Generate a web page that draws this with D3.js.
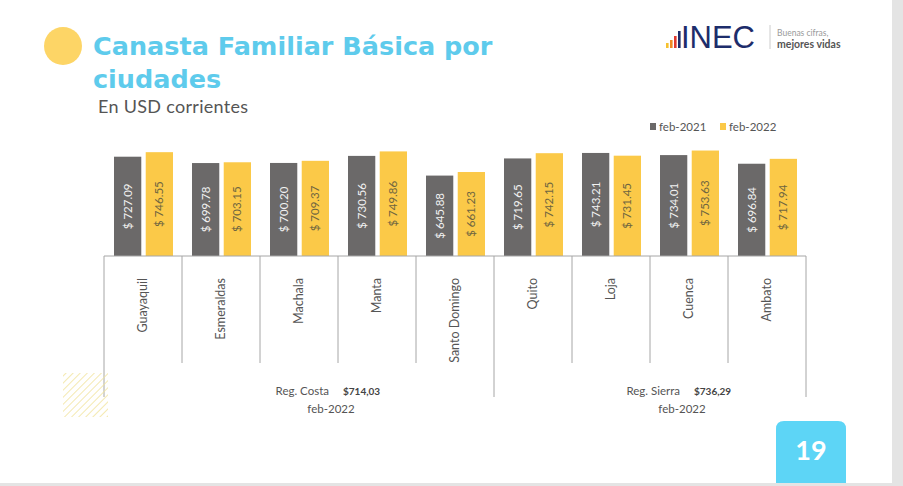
<!DOCTYPE html>
<html>
<head>
<meta charset="utf-8">
<script src="https://cdn.jsdelivr.net/npm/d3@7/dist/d3.min.js"></script>
<style>
  body { margin: 0; background: #fff; }
  svg { display: block; }
</style>
</head>
<body>
<div id="chart"></div>
<script>
// data
const cities = ["Guayaquil", "Esmeraldas", "Machala", "Manta", "Santo Domingo", "Quito", "Loja", "Cuenca", "Ambato"]
const series = ["feb-2021", "feb-2022"]
const feb2021 = [727.09, 699.78, 700.20, 730.56, 645.88, 719.65, 743.21, 734.01, 696.84]
const feb2022 = [746.55, 703.15, 709.37, 749.86, 661.23, 742.15, 731.45, 753.63, 717.94]
const regionNames = ["Reg. Costa", "Reg. Sierra"]
const regionValues = ["$714,03", "$736,29"]
const regionFirst = [0, 5]
const regionLast = [4, 8]
const regionPeriod = ["feb-2022", "feb-2022"]
const titleLines = ["Canasta Familiar Básica por", "ciudades"]

const width = 903
const height = 486
const font = "Lato, 'Open Sans', sans-serif"
const colors = { "feb-2021": "#6b6969", "feb-2022": "#fbc948" }
const labelColors = { "feb-2021": "#f2f2f2", "feb-2022": "#6e6540" }

const svg = d3.select('#chart')
  .append('svg')
  .attr('width', width)
  .attr('height', height)
  .style('font-family', font)

// slide frame
svg.append('rect').attr('x', 892).attr('y', 0).attr('width', 11).attr('height', height).attr('fill', '#e4e4e4')
svg.append('rect').attr('x', 0).attr('y', 483).attr('width', width).attr('height', 3).attr('fill', '#e4e4e4')

// title block
svg.append('circle').attr('cx', 63).attr('cy', 46).attr('r', 19).attr('fill', '#fdd566')

svg.selectAll('.title')
  .data(titleLines)
  .enter()
  .append('text')
  .attr('x', 93)
  .attr('y', (d, i) => 55 + i * 33)
  .attr('fill', '#5ecbec')
  .attr('font-family', "'DejaVu Sans', sans-serif")
  .attr('font-size', 25.5)
  .attr('font-weight', 'bold')
  .text(d => d)

svg.append('text')
  .attr('x', 98).attr('y', 113)
  .attr('fill', '#555')
  .attr('font-size', 18)
  .attr('letter-spacing', 0.3)
  .text('En USD corrientes')

// INEC logo
const logo = svg.append('g')
const logoBars = [
  { x: 666, h: 5, c: '#f6c230' },
  { x: 670, h: 8, c: '#f08a24' },
  { x: 674, h: 12, c: '#e03a30' },
  { x: 678, h: 17, c: '#1d2d6b' }
]
logo.selectAll('rect').data(logoBars).enter().append('rect')
  .attr('x', d => d.x).attr('y', d => 48 - d.h)
  .attr('width', 2.6).attr('height', d => d.h)
  .attr('fill', d => d.c)
logo.append('text')
  .attr('x', 681).attr('y', 48)
  .attr('fill', '#1d2d6b')
  .attr('font-size', 31)
  .attr('font-family', "'Liberation Sans', sans-serif")
  .attr('textLength', 74)
  .text('INEC')
logo.append('line')
  .attr('x1', 770).attr('x2', 770).attr('y1', 25).attr('y2', 49)
  .attr('stroke', '#ccc')
logo.append('text')
  .attr('x', 777).attr('y', 36)
  .attr('fill', '#9a9a9a')
  .attr('font-size', 8.5)
  .text('Buenas cifras,')
logo.append('text')
  .attr('x', 777).attr('y', 48)
  .attr('fill', '#555')
  .attr('font-size', 10.5)
  .attr('font-weight', 'bold')
  .text('mejores vidas')

// scales
const x0 = d3.scaleBand()
  .domain(cities)
  .range([104, 806])

const x1 = d3.scaleBand()
  .domain(series)
  .range([10, 69])
  .paddingInner(0.14)

const y = d3.scaleLinear()
  .domain([300, 800])
  .range([256, 139.75])

const rows = cities.map((c, i) => ({ city: c, values: [
  { key: 'feb-2021', value: feb2021[i] },
  { key: 'feb-2022', value: feb2022[i] }
] }))

// legend
const legend = svg.selectAll('.legend')
  .data(series)
  .enter()
  .append('g')
  .attr('transform', (d, i) => 'translate(' + (650 + i * 70) + ',0)')
legend.append('rect')
  .attr('x', 0).attr('y', 123)
  .attr('width', 6).attr('height', 7)
  .attr('fill', d => colors[d])
legend.append('text')
  .attr('x', 9).attr('y', 131)
  .attr('fill', '#555')
  .attr('font-size', 11.5)
  .text(d => d)

// bars
const groups = svg.selectAll('.city')
  .data(rows)
  .enter()
  .append('g')
  .attr('transform', d => 'translate(' + x0(d.city) + ',0)')

groups.selectAll('rect')
  .data(d => d.values)
  .enter()
  .append('rect')
  .attr('x', d => x1(d.key))
  .attr('y', d => y(d.value))
  .attr('width', x1.bandwidth())
  .attr('height', d => y.range()[0] - y(d.value))
  .attr('fill', d => colors[d.key])

groups.selectAll('.val')
  .data(d => d.values)
  .enter()
  .append('text')
  .attr('transform', function(d) {
    let cx = x1(d.key) + x1.bandwidth() / 2
    let cy = (y(d.value) + y.range()[0]) / 2
    return 'translate(' + cx + ',' + cy + ') rotate(-90)'
  })
  .attr('text-anchor', 'middle')
  .attr('dy', '0.35em')
  .attr('fill', d => labelColors[d.key])
  .attr('font-size', 11.5)
  .text(d => '$ ' + d.value.toFixed(2))

// category axis frame
const base = y.range()[0]
svg.append('line')
  .attr('x1', 104).attr('x2', 806).attr('y1', base).attr('y2', base)
  .attr('stroke', '#a6a6a6')

const edges = cities.map(c => x0(c)).concat([x0.range()[1]])
const outerEdges = regionFirst.map(i => x0(cities[i])).concat([x0.range()[1]])

svg.selectAll('.sep')
  .data(edges)
  .enter()
  .append('line')
  .attr('x1', d => d).attr('x2', d => d)
  .attr('y1', base)
  .attr('y2', d => outerEdges.indexOf(d) >= 0 ? 397 : 363)
  .attr('stroke', '#a6a6a6')

groups.append('text')
  .attr('transform', 'translate(' + (x0.bandwidth() / 2) + ',' + (base + 22) + ') rotate(-90)')
  .attr('text-anchor', 'end')
  .attr('dy', '0.35em')
  .attr('fill', '#555')
  .attr('font-size', 12.5)
  .text(d => d.city)

// region labels
const regions = regionNames.map((n, i) => ({
  name: n,
  value: regionValues[i],
  period: regionPeriod[i],
  center: (x0(cities[regionFirst[i]]) + x0(cities[regionLast[i]]) + x0.bandwidth()) / 2
}))

const reg = svg.selectAll('.region')
  .data(regions)
  .enter()
  .append('g')

reg.append('text')
  .attr('x', d => d.center + 30).attr('y', 395)
  .attr('text-anchor', 'end')
  .attr('fill', '#555')
  .attr('font-size', 11.5)
  .text(d => d.name)

reg.append('text')
  .attr('x', d => d.center + 44).attr('y', 395)
  .attr('fill', '#444')
  .attr('font-size', 10)
  .attr('font-weight', 'bold')
  .text(d => d.value)

reg.append('text')
  .attr('x', d => d.center + 32).attr('y', 413)
  .attr('text-anchor', 'middle')
  .attr('fill', '#555')
  .attr('font-size', 11.5)
  .text(d => d.period)

// hatched square decoration
const defs = svg.append('defs')
const pat = defs.append('pattern')
  .attr('id', 'hatch')
  .attr('patternUnits', 'userSpaceOnUse')
  .attr('width', 5).attr('height', 5)
  .attr('patternTransform', 'rotate(45)')
pat.append('line')
  .attr('x1', 0).attr('x2', 0).attr('y1', 0).attr('y2', 5)
  .attr('stroke', '#f1e49c')
  .attr('stroke-width', 1.6)
svg.append('rect')
  .attr('x', 63).attr('y', 373)
  .attr('width', 45).attr('height', 44)
  .attr('fill', 'url(#hatch)')

// page number
svg.append('path')
  .attr('d', 'M776,483 V429 Q776,421 784,421 H838 Q846,421 846,429 V483 Z')
  .attr('fill', '#5dd5f6')
svg.append('text')
  .attr('x', 811).attr('y', 460)
  .attr('text-anchor', 'middle')
  .attr('fill', '#fff')
  .attr('font-size', 27)
  .attr('font-weight', 'bold')
  .text('19')
</script>
</body>
</html>
